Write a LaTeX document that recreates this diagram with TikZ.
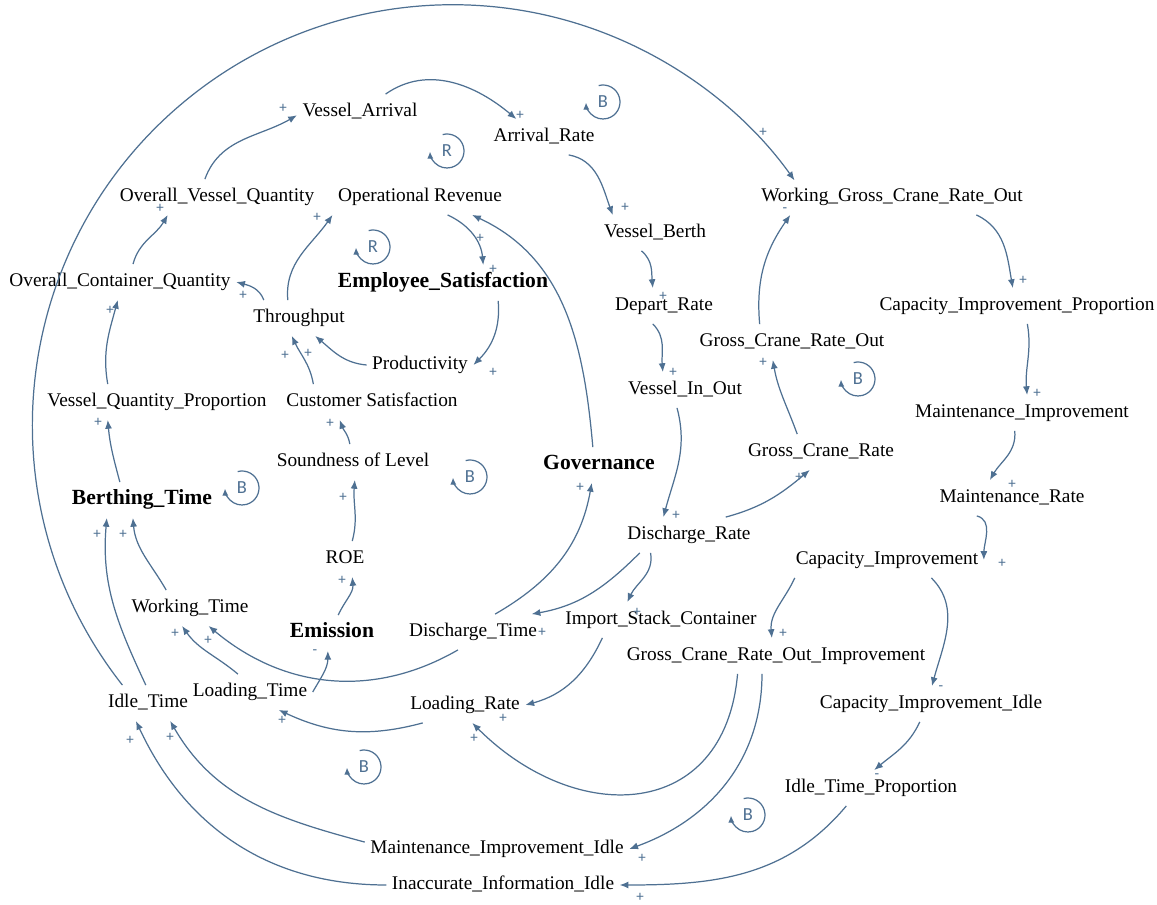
\documentclass[tikz,border=0pt]{standalone}
\usepackage{fontspec}
\setmainfont{Liberation Serif}
\newfontfamily\loopfont{Carlito}
\usetikzlibrary{arrows.meta}
\definecolor{linkblue}{RGB}{78,112,146}

\newcommand{\loopsym}[3]{%
  \node[looptag] (#1) at #2 {#3};
  \draw[loopline] (#1.center) ++(105:17) arc[start angle=105,end angle=-178,radius=17];
}

\begin{document}
\begin{tikzpicture}[x=0.02cm,y=0.02cm,
		var/.style={font=\fontsize{11}{13}\selectfont,inner xsep=3pt,inner ysep=5pt,text height=7.5pt,text depth=2.5pt},
		key/.style={var,font=\fontsize{12.3}{14}\selectfont\bfseries},
		link/.style={draw=linkblue,line width=0.7pt,-{Latex[length=5pt,width=4pt]}},
		pol/.style={text=linkblue,font=\loopfont\fontsize{8.5}{9}\selectfont,inner sep=0pt},
		looptag/.style={text=linkblue,font=\loopfont\fontsize{10.5}{12}\selectfont,inner sep=0pt},
		loopline/.style={draw=linkblue,line width=0.7pt,-{Latex[length=4pt,width=3.5pt]}}]
	\useasboundingbox (0,0) rectangle (1157,-905);

	\node[var] (vArr) at (360,-112) {Vessel\_Arrival};
	\node[var] (aRate) at (544,-137) {Arrival\_Rate};
	\node[var] (opRev) at (420,-197) {Operational Revenue};
	\node[var] (ovq) at (217,-197) {Overall\_Vessel\_Quantity};
	\node[var] (vBerth) at (655,-233) {Vessel\_Berth};
	\node[var] (wgcro) at (892,-197) {Working\_Gross\_Crane\_Rate\_Out};
	\node[var] (ocq) at (120,-282) {Overall\_Container\_Quantity};
	\node[key] (empSat) at (443,-283) {Employee\_Satisfaction};
	\node[var] (thru) at (299,-318) {Throughput};
	\node[var] (dRate) at (664,-306) {Depart\_Rate};
	\node[var] (cip) at (1017,-306) {Capacity\_Improvement\_Proportion};
	\node[var] (gcro) at (792,-342) {Gross\_Crane\_Rate\_Out};
	\node[var] (prod) at (420,-365) {Productivity};
	\node[var] (vqp) at (157,-402) {Vessel\_Quantity\_Proportion};
	\node[var] (cSat) at (372,-402) {Customer Satisfaction};
	\node[var] (vio) at (685,-390) {Vessel\_In\_Out};
	\node[var] (mImp) at (1022,-413) {Maintenance\_Improvement};
	\node[var] (sol) at (353,-462) {Soundness of Level};
	\node[key] (gov) at (599,-465) {Governance};
	\node[var] (gcr) at (821,-452) {Gross\_Crane\_Rate};
	\node[key] (bTime) at (142,-500) {Berthing\_Time};
	\node[var] (mRate) at (1012,-498) {Maintenance\_Rate};
	\node[var] (dchRate) at (689,-535) {Discharge\_Rate};
	\node[var] (capImp) at (887,-560) {Capacity\_Improvement};
	\node[var] (roe) at (345,-559) {ROE};
	\node[var] (wTime) at (190,-608) {Working\_Time};
	\node[key] (emis) at (332,-633) {Emission};
	\node[var] (dchTime) at (473,-632) {Discharge\_Time};
	\node[var] (isc) at (661,-620) {Import\_Stack\_Container};
	\node[var] (gcroi) at (776,-656) {Gross\_Crane\_Rate\_Out\_Improvement};
	\node[var] (iTime) at (148,-703) {Idle\_Time};
	\node[var] (lTime) at (250,-692) {Loading\_Time};
	\node[var] (lRate) at (465,-705) {Loading\_Rate};
	\node[var] (cii) at (931,-704) {Capacity\_Improvement\_Idle};
	\node[var] (itp) at (871,-788) {Idle\_Time\_Proportion};
	\node[var] (mii) at (497,-849) {Maintenance\_Improvement\_Idle};
	\node[var] (iii) at (503,-885) {Inaccurate\_Information\_Idle};

	% links
	\draw[link] (ovq.124) to[out=70,in=210] (vArr.183);
	\draw[link] (vArr.35) to[out=35,in=140] (aRate.147);
	\draw[link] (aRate.-36) to[out=-10,in=110] (vBerth.157);
	\draw[link] (vBerth.-127) to[out=-40,in=95] (dRate.122);
	\draw[link] (dRate.-122) to[out=-45,in=95] (vio.141);
	\draw[link] (vio.-114) to[out=-75,in=75] (dchRate.145);
	\draw[link] (dchRate.26) to[out=15,in=-140] (gcr.-122);
	\draw[link] (gcr.143) to[out=110,in=-80] (gcro.-137);
	\draw[link] (gcro.151) to[out=95,in=-125] (wgcro.-170);
	\draw[link] (iTime.145) arc[start angle=218.2,end angle=35.6,radius=420.4];
	\draw[link] (wgcro.-12) to[out=-25,in=100] (cip.103);
	\draw[link] (cip.-60) to[out=-80,in=95] (mImp.74);
	\draw[link] (mImp.-112) to[out=-85,in=60] (mRate.141);
	\draw[link] (mRate.-153) to[out=-15,in=90] (capImp.east);
	\draw[link] (capImp.-169) to[out=-115,in=95] (gcroi.103);
	\draw[link] (capImp.-22) to[out=-45,in=75] (cii.87);
	\draw[link] (gcroi.-155) to[out=-95,in=-45,looseness=1.4] (lRate.-68);
	\draw[link] (gcroi.-128) to[out=-90,in=20] (mii.east);
	\draw[link] (itp.-144) to[out=-130,in=0] (iii.east);
	\draw[link] (cii.-122) to[out=-115,in=40] (itp.80);
	\draw[link] (mii.177) to[out=165,in=-60] (iTime.-39);
	\draw[link] (iii.west) to[out=180,in=-65] (iTime.-124);
	\draw[link] (lRate.-157) to[out=-165,in=-25] (lTime.-32);
	\draw[link] (isc.-163) to[out=-115,in=15] (lRate.east);
	\draw[link] (lTime.east) to[out=60,in=-90] (emis.-103);
	\draw[link] (emis.71) to[out=65,in=-85] (roe.-68);
	\draw[link] (roe.68) to[out=75,in=-95] (sol.-84);
	\draw[link] (sol.100) to[out=100,in=-70] (cSat.-151);
	\draw[link] (cSat.163) to[out=100,in=-65] (thru.-112);
	\draw[link] (prod.west) to[out=175,in=-40] (thru.-48);
	\draw[link] (thru.153) to[out=110,in=-15] (ocq.east);
	\draw[link] (thru.122) to[out=95,in=235] (opRev.south west);
	\draw[link] (opRev.-33) to[out=-25,in=95] (empSat.24);
	\draw[link] (empSat.-18) to[out=-85,in=45] (prod.east);
	\draw[link] (gov.109) to[out=95,in=-25] (opRev.-19);
	\draw[link] (dchTime.39) to[out=30,in=-100] (gov.-112);
	\draw[link] (dchRate.-160) to[out=-135,in=10] (dchTime.17);
	\draw[link] (dchRate.-155) to[out=-80,in=65] (isc.152);
	\draw[link] (dchTime.-130) to[out=-150,in=-40] (wTime.-44);
	\draw[link] (ocq.54) to[out=75,in=-120] (ovq.-160);
	\draw[link] (vqp.160) to[out=100,in=-105] (ocq.-97);
	\draw[link] (bTime.141) to[out=105,in=-85] (vqp.-160);
	\draw[link] (iTime.97) to[out=115,in=-95] (bTime.-153);
	\draw[link] (wTime.143) to[out=120,in=-85] (bTime.-117);
	\draw[link] (lTime.124) to[out=140,in=-55] (wTime.-114);

	% polarities
	\foreach \x/\y [count=\i] in {283/108,520/115,625/207,663/296,673/372,676/515,799/477,763/362,
		763/132,1023/280,1037/393,1012/484,1002/563,783/633,474/738,642/858,640/897,170/737,
		130/740,282/720,503/718,342/580,343/497,330/423,285/355,308/353,243/295,317/217,
		480/238,493/269,493/372,580/487,542/632,637/612,175/633,208/640,160/208,110/310,
		98/422,97/534,123/534}
		\node[pol] (plus\i) at (\x,-\y) {+};
	\foreach \x/\y [count=\i] in {785/210,315/652,941/688,877/776}
		\node[pol] (minus\i) at (\x,-\y) {-};

	% loops
	\loopsym{lpB1}{(603,-102)}{B}
	\loopsym{lpR1}{(447,-151)}{R}
	\loopsym{lpR2}{(373,-247)}{R}
	\loopsym{lpB2}{(242,-488)}{B}
	\loopsym{lpB3}{(470,-477)}{B}
	\loopsym{lpB4}{(858,-379)}{B}
	\loopsym{lpB5}{(364,-767)}{B}
	\loopsym{lpB6}{(748,-815)}{B}
\end{tikzpicture}
\end{document}
